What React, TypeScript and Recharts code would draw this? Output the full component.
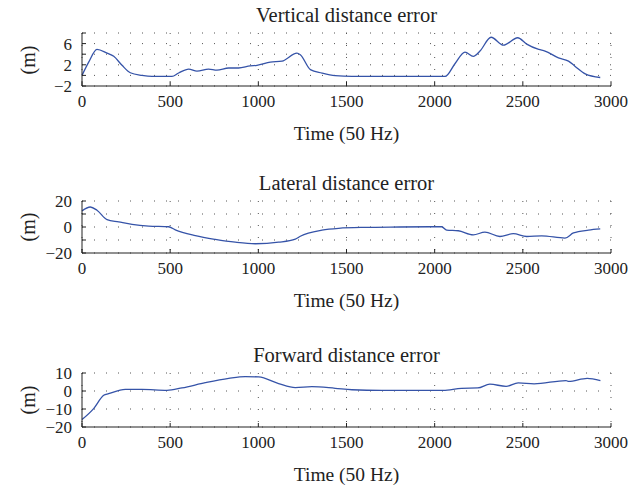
import React from 'react';
import { LineChart, Line, XAxis, YAxis, CartesianGrid } from 'recharts';

// values (time in samples at 50 Hz, error in metres)
const verticalTime = [0, 38, 85, 142, 180, 227, 274, 340, 397, 510, 548, 605, 652, 718, 765, 832, 888, 954, 992, 1068, 1134, 1219, 1238, 1295, 1361, 1436, 1531, 2059, 2115, 2172, 2219, 2257, 2320, 2390, 2471, 2522, 2590, 2626, 2702, 2759, 2797, 2854, 2939];
const verticalError = [0, 2.5, 4.9, 4.2, 3.6, 1.9, 0.5, 0, -0.2, -0.2, 0.45, 1.2, 0.8, 1.2, 1.0, 1.4, 1.4, 1.8, 1.9, 2.5, 2.7, 4.2, 3.9, 1.1, 0.45, -0.05, -0.2, -0.2, 2.2, 4.4, 3.6, 4.6, 7.2, 5.7, 7.1, 5.9, 4.9, 4.6, 3.3, 2.7, 1.7, 0.3, -0.4];

const lateralTime = [0, 47, 85, 142, 208, 284, 378, 491, 529, 643, 756, 869, 983, 1115, 1210, 1238, 1361, 1455, 1600, 1800, 2040, 2068, 2134, 2219, 2285, 2370, 2446, 2522, 2607, 2739, 2787, 2872, 2939];
const lateralError = [12.4, 15.4, 12.9, 5.6, 3.9, 2, 0.7, 0.2, -2.2, -6.6, -9.5, -11.7, -12.9, -11.7, -9.3, -7.1, -2.4, -1.0, -0.3, 0, 0.2, -2.4, -2.9, -6.1, -3.9, -7.3, -5.1, -7.3, -6.8, -8.5, -4.6, -2.4, -1.5];

const forwardTime = [0, 66, 123, 151, 246, 340, 482, 567, 699, 832, 926, 1002, 1115, 1210, 1304, 1436, 1531, 1700, 2049, 2152, 2245, 2313, 2405, 2474, 2564, 2745, 2760, 2865, 2940];
const forwardError = [-15.9, -9.8, -2.4, -1.5, 0.9, 0.9, 0.4, 1.7, 4.6, 7.0, 8.0, 7.8, 4.1, 1.9, 2.4, 1.5, 0.7, 0.3, 0.3, 1.5, 1.7, 3.8, 2.6, 4.5, 4.0, 5.8, 5.3, 7.0, 5.7];

const xTicks = [0, 500, 1000, 1500, 2000, 2500, 3000];

const FONT = '"Liberation Serif", "DejaVu Serif", serif';
const INK = '#222';
const LINE_BLUE = '#3553a8';

const zip = (t: number[], v: number[]) => t.map((time, i) => ({ time, value: v[i] }));

const fmt = (v: number) => (v < 0 ? '\u2212' + Math.abs(v) : String(v));

type PanelProps = {
  title: string;
  time: number[];
  values: number[];
  yDomain: [number, number];
  yTicks: number[];
  yLabels: number[];
  boxTop: number;
  boxHeight: number;
};

const textStyle: React.CSSProperties = {
  position: 'absolute',
  fontFamily: FONT,
  color: INK,
  whiteSpace: 'nowrap',
  lineHeight: 1,
};

const Panel: React.FC<PanelProps> = ({ title, time, values, yDomain, yTicks, yLabels, boxTop, boxHeight }) => {
  const data = zip(time, values);
  const mTop = 14;
  const xAxisH = 25;
  const tickStyle = { fontFamily: FONT, fontSize: 17, fill: INK };
  return (
    <>
      <div style={{ ...textStyle, fontSize: 20.5, left: 346.5, top: boxTop - 18, transform: 'translate(-50%, -50%)' }}>{title}</div>
      <div style={{ ...textStyle, fontSize: 19.5, left: 346.5, top: boxTop + boxHeight + 48, transform: 'translate(-50%, -50%)' }}>Time (50 Hz)</div>
      <div style={{ ...textStyle, fontSize: 20, left: 28, top: boxTop + boxHeight / 2, transform: 'translate(-50%, -50%) rotate(-90deg)' }}>(m)</div>
      <div style={{ position: 'absolute', left: 0, top: boxTop - mTop }}>
        <LineChart width={633} height={mTop + boxHeight + xAxisH} data={data} margin={{ top: mTop, right: 22, bottom: 0, left: 0 }}>
          <CartesianGrid stroke="#555" strokeDasharray="1 11" />
          <XAxis
            dataKey="time"
            type="number"
            domain={[0, 3000]}
            ticks={xTicks}
            interval={0}
            height={xAxisH}
            tickSize={-4}
            tickMargin={13}
            stroke={INK}
            tick={tickStyle}
          />
          <XAxis xAxisId="top" dataKey="time" type="number" orientation="top" domain={[0, 3000]} ticks={xTicks} height={0} tickSize={-4} tick={false} stroke={INK} />
          <YAxis
            type="number"
            domain={yDomain}
            ticks={yTicks}
            interval={0}
            width={82}
            tickSize={-4}
            tickMargin={14}
            stroke={INK}
            tick={tickStyle}
            tickFormatter={(v: number) => (yLabels.includes(v) ? fmt(v) : '')}
          />
          <YAxis yAxisId="right" orientation="right" type="number" domain={yDomain} ticks={yTicks} width={0} tickSize={-4} tick={false} stroke={INK} />
          <Line type="monotone" dataKey="value" stroke={LINE_BLUE} strokeWidth={1.3} dot={false} isAnimationActive={false} />
        </LineChart>
      </div>
    </>
  );
};

const App: React.FC = () => {
  return (
    <div style={{ position: 'absolute', left: 0, top: 0, width: 633, height: 489, background: '#fff' }}>
      <Panel
        title="Vertical distance error"
        time={verticalTime}
        values={verticalError}
        yDomain={[-2, 8]}
        yTicks={[-2, 0, 2, 4, 6, 8]}
        yLabels={[-2, 2, 6]}
        boxTop={33}
        boxHeight={53}
      />
      <Panel
        title="Lateral distance error"
        time={lateralTime}
        values={lateralError}
        yDomain={[-20, 20]}
        yTicks={[-20, -10, 0, 10, 20]}
        yLabels={[-20, 0, 20]}
        boxTop={201}
        boxHeight={52}
      />
      <Panel
        title="Forward distance error"
        time={forwardTime}
        values={forwardError}
        yDomain={[-20, 10]}
        yTicks={[-20, -10, 0, 10]}
        yLabels={[-20, -10, 0, 10]}
        boxTop={373}
        boxHeight={54}
      />
    </div>
  );
};

export default App;
